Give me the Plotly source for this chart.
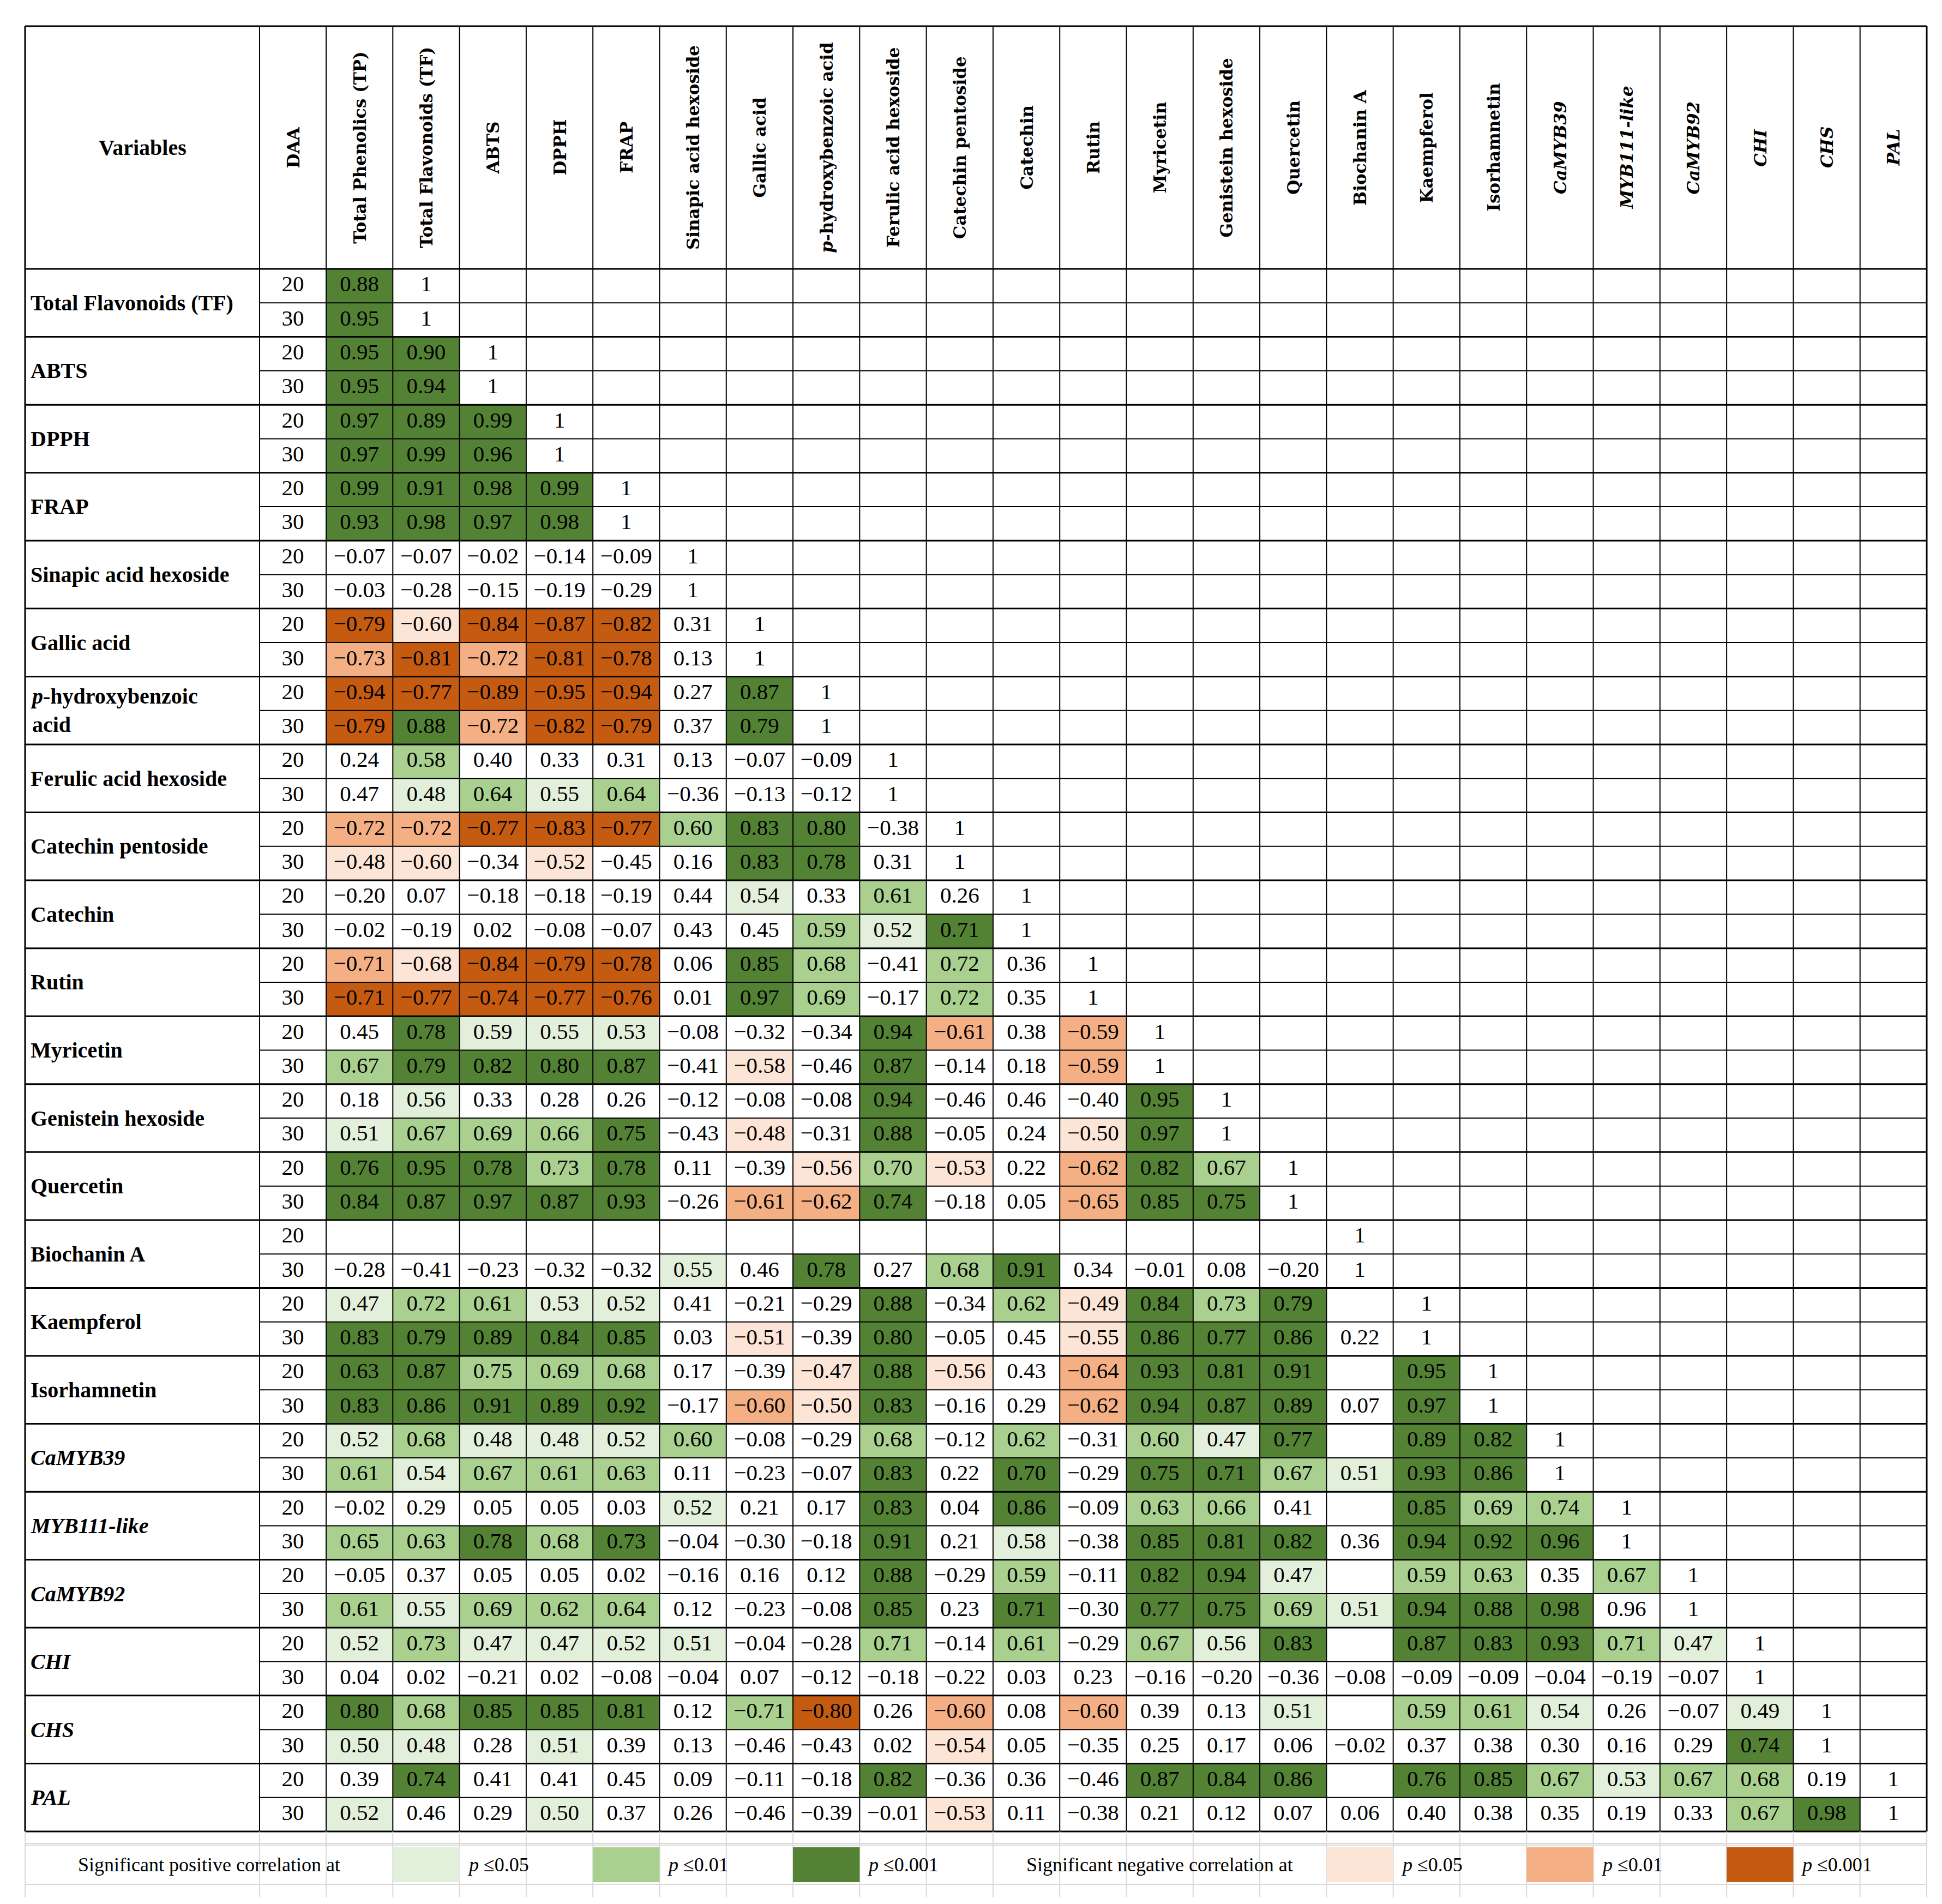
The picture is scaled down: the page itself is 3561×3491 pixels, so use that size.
import plotly.graph_objects as go

columns = ["Total Phenolics (TP)", "Total Flavonoids (TF)", "ABTS", "DPPH", "FRAP",
           "Sinapic acid hexoside", "Gallic acid", "<i>p</i>-hydroxybenzoic acid",
           "Ferulic acid hexoside", "Catechin pentoside", "Catechin", "Rutin", "Myricetin",
           "Genistein hexoside", "Quercetin", "Biochanin A", "Kaempferol", "Isorhamnetin",
           "<i>CaMYB39</i>", "<i>MYB111-like</i>", "<i>CaMYB92</i>", "<i>CHI</i>", "<i>CHS</i>", "<i>PAL</i>"]

row_vars = ["Total Flavonoids (TF)", "ABTS", "DPPH", "FRAP", "Sinapic acid hexoside", "Gallic acid",
            "<i>p</i>-hydroxybenzoic<br>acid", "Ferulic acid hexoside", "Catechin pentoside", "Catechin",
            "Rutin", "Myricetin", "Genistein hexoside", "Quercetin", "Biochanin A", "Kaempferol",
            "Isorhamnetin", "<i>CaMYB39</i>", "<i>MYB111-like</i>", "<i>CaMYB92</i>", "<i>CHI</i>",
            "<i>CHS</i>", "<i>PAL</i>"]
daa = ["20", "30"]

# "." = empty cell
values = [
    "0.88 1", "0.95 1",
    "0.95 0.90 1", "0.95 0.94 1",
    "0.97 0.89 0.99 1", "0.97 0.99 0.96 1",
    "0.99 0.91 0.98 0.99 1", "0.93 0.98 0.97 0.98 1",
    "-0.07 -0.07 -0.02 -0.14 -0.09 1", "-0.03 -0.28 -0.15 -0.19 -0.29 1",
    "-0.79 -0.60 -0.84 -0.87 -0.82 0.31 1", "-0.73 -0.81 -0.72 -0.81 -0.78 0.13 1",
    "-0.94 -0.77 -0.89 -0.95 -0.94 0.27 0.87 1", "-0.79 0.88 -0.72 -0.82 -0.79 0.37 0.79 1",
    "0.24 0.58 0.40 0.33 0.31 0.13 -0.07 -0.09 1", "0.47 0.48 0.64 0.55 0.64 -0.36 -0.13 -0.12 1",
    "-0.72 -0.72 -0.77 -0.83 -0.77 0.60 0.83 0.80 -0.38 1", "-0.48 -0.60 -0.34 -0.52 -0.45 0.16 0.83 0.78 0.31 1",
    "-0.20 0.07 -0.18 -0.18 -0.19 0.44 0.54 0.33 0.61 0.26 1", "-0.02 -0.19 0.02 -0.08 -0.07 0.43 0.45 0.59 0.52 0.71 1",
    "-0.71 -0.68 -0.84 -0.79 -0.78 0.06 0.85 0.68 -0.41 0.72 0.36 1", "-0.71 -0.77 -0.74 -0.77 -0.76 0.01 0.97 0.69 -0.17 0.72 0.35 1",
    "0.45 0.78 0.59 0.55 0.53 -0.08 -0.32 -0.34 0.94 -0.61 0.38 -0.59 1", "0.67 0.79 0.82 0.80 0.87 -0.41 -0.58 -0.46 0.87 -0.14 0.18 -0.59 1",
    "0.18 0.56 0.33 0.28 0.26 -0.12 -0.08 -0.08 0.94 -0.46 0.46 -0.40 0.95 1", "0.51 0.67 0.69 0.66 0.75 -0.43 -0.48 -0.31 0.88 -0.05 0.24 -0.50 0.97 1",
    "0.76 0.95 0.78 0.73 0.78 0.11 -0.39 -0.56 0.70 -0.53 0.22 -0.62 0.82 0.67 1", "0.84 0.87 0.97 0.87 0.93 -0.26 -0.61 -0.62 0.74 -0.18 0.05 -0.65 0.85 0.75 1",
    ". . . . . . . . . . . . . . . 1", "-0.28 -0.41 -0.23 -0.32 -0.32 0.55 0.46 0.78 0.27 0.68 0.91 0.34 -0.01 0.08 -0.20 1",
    "0.47 0.72 0.61 0.53 0.52 0.41 -0.21 -0.29 0.88 -0.34 0.62 -0.49 0.84 0.73 0.79 . 1", "0.83 0.79 0.89 0.84 0.85 0.03 -0.51 -0.39 0.80 -0.05 0.45 -0.55 0.86 0.77 0.86 0.22 1",
    "0.63 0.87 0.75 0.69 0.68 0.17 -0.39 -0.47 0.88 -0.56 0.43 -0.64 0.93 0.81 0.91 . 0.95 1", "0.83 0.86 0.91 0.89 0.92 -0.17 -0.60 -0.50 0.83 -0.16 0.29 -0.62 0.94 0.87 0.89 0.07 0.97 1",
    "0.52 0.68 0.48 0.48 0.52 0.60 -0.08 -0.29 0.68 -0.12 0.62 -0.31 0.60 0.47 0.77 . 0.89 0.82 1", "0.61 0.54 0.67 0.61 0.63 0.11 -0.23 -0.07 0.83 0.22 0.70 -0.29 0.75 0.71 0.67 0.51 0.93 0.86 1",
    "-0.02 0.29 0.05 0.05 0.03 0.52 0.21 0.17 0.83 0.04 0.86 -0.09 0.63 0.66 0.41 . 0.85 0.69 0.74 1", "0.65 0.63 0.78 0.68 0.73 -0.04 -0.30 -0.18 0.91 0.21 0.58 -0.38 0.85 0.81 0.82 0.36 0.94 0.92 0.96 1",
    "-0.05 0.37 0.05 0.05 0.02 -0.16 0.16 0.12 0.88 -0.29 0.59 -0.11 0.82 0.94 0.47 . 0.59 0.63 0.35 0.67 1", "0.61 0.55 0.69 0.62 0.64 0.12 -0.23 -0.08 0.85 0.23 0.71 -0.30 0.77 0.75 0.69 0.51 0.94 0.88 0.98 0.96 1",
    "0.52 0.73 0.47 0.47 0.52 0.51 -0.04 -0.28 0.71 -0.14 0.61 -0.29 0.67 0.56 0.83 . 0.87 0.83 0.93 0.71 0.47 1", "0.04 0.02 -0.21 0.02 -0.08 -0.04 0.07 -0.12 -0.18 -0.22 0.03 0.23 -0.16 -0.20 -0.36 -0.08 -0.09 -0.09 -0.04 -0.19 -0.07 1",
    "0.80 0.68 0.85 0.85 0.81 0.12 -0.71 -0.80 0.26 -0.60 0.08 -0.60 0.39 0.13 0.51 . 0.59 0.61 0.54 0.26 -0.07 0.49 1", "0.50 0.48 0.28 0.51 0.39 0.13 -0.46 -0.43 0.02 -0.54 0.05 -0.35 0.25 0.17 0.06 -0.02 0.37 0.38 0.30 0.16 0.29 0.74 1",
    "0.39 0.74 0.41 0.41 0.45 0.09 -0.11 -0.18 0.82 -0.36 0.36 -0.46 0.87 0.84 0.86 . 0.76 0.85 0.67 0.53 0.67 0.68 0.19 1", "0.52 0.46 0.29 0.50 0.37 0.26 -0.46 -0.39 -0.01 -0.53 0.11 -0.38 0.21 0.12 0.07 0.06 0.40 0.38 0.35 0.19 0.33 0.67 0.98 1",
]

# significance: 3/2/1 positive p<=0.001/0.01/0.05, negative likewise, 0 none
signif = [
    "3 0", "3 0",
    "3 3 0", "3 3 0",
    "3 3 3 0", "3 3 3 0",
    "3 3 3 3 0", "3 3 3 3 0",
    "0 0 0 0 0 0", "0 0 0 0 0 0",
    "-3 -1 -3 -3 -3 0 0", "-2 -3 -2 -3 -3 0 0",
    "-3 -3 -3 -3 -3 0 3 0", "-3 3 -2 -3 -3 0 3 0",
    "0 2 0 0 0 0 0 0 0", "0 1 2 1 2 0 0 0 0",
    "-2 -2 -3 -3 -3 2 3 3 0 0", "-1 -1 0 -1 0 0 3 3 0 0",
    "0 0 0 0 0 0 1 0 2 0 0", "0 0 0 0 0 0 0 2 1 3 0",
    "-2 -1 -3 -3 -3 0 3 2 0 2 0 0", "-3 -3 -3 -3 -3 0 3 2 0 2 0 0",
    "0 3 1 1 1 0 0 0 3 -2 0 -2 0", "2 3 3 3 3 0 -1 0 3 0 0 -2 0",
    "0 1 0 0 0 0 0 0 3 0 0 0 3 0", "1 2 2 2 3 0 -1 0 3 0 0 -1 3 0",
    "3 3 3 2 3 0 0 -1 2 -1 0 -2 3 2 0", "3 3 3 3 3 0 -2 -2 3 0 0 -2 3 3 0",
    "0 0 0 0 0 0 0 0 0 0 0 0 0 0 0 0", "0 0 0 0 0 1 0 3 0 2 3 0 0 0 0 0",
    "1 2 2 1 1 0 0 0 3 0 2 -1 3 2 3 0 0", "3 3 3 3 3 0 -1 0 3 0 0 -1 3 3 3 0 0",
    "3 3 2 2 2 0 0 -1 3 -1 0 -2 3 3 3 0 3 0", "3 3 3 3 3 0 -2 -1 3 0 0 -2 3 3 3 0 3 0",
    "1 2 1 1 1 2 0 0 2 0 2 0 2 1 3 0 3 3 0", "2 1 2 2 2 0 0 0 3 0 3 0 3 3 2 1 3 3 0",
    "0 0 0 0 0 1 0 0 3 0 3 0 2 2 0 0 3 2 2 0", "2 2 3 2 3 0 0 0 3 0 1 0 3 3 3 0 3 3 3 0",
    "0 0 0 0 0 0 0 0 3 0 2 0 3 3 1 0 2 2 0 2 0", "2 1 2 2 2 0 0 0 3 0 3 0 3 3 2 1 3 3 3 0 0",
    "1 2 1 1 1 1 0 0 2 0 2 0 2 1 3 0 3 3 3 2 1 0", "0 0 0 0 0 0 0 0 0 0 0 0 0 0 0 0 0 0 0 0 0 0",
    "3 2 3 3 3 0 2 -3 0 -2 0 -2 0 0 1 0 2 2 1 0 0 1 0", "1 1 0 1 0 0 0 0 0 -1 0 0 0 0 0 0 0 0 0 0 0 3 0",
    "0 3 0 0 0 0 0 0 3 0 0 0 3 3 3 0 3 3 2 1 2 2 0 0", "1 0 0 1 0 0 0 0 0 -1 0 0 0 0 0 0 0 0 0 0 0 2 3 0",
]

legend_levels = ["<i>p</i> ≤0.05", "<i>p</i> ≤0.01", "<i>p</i> ≤0.001"]

colors = {3: "#548235", 2: "#A9D08E", 1: "#E2EFDA", -1: "#FCE4D6", -2: "#F4B084", -3: "#C55A11"}

W, H = 3561, 3491
X0 = 38.0
XV = 468.0
XD = 590.0
XR = 3525.0
CW = (XR - XD) / len(columns)
Y0 = 40.0
YH = 485.0
NR = len(values)
RH = (3350.0 - YH) / NR
YB = YH + NR * RH
LY0, LY1 = 3379.0, 3443.0

def cx(j):
    return XD + (j + 0.5) * CW

def ry(i):
    return YH + (i + 0.5) * RH

SERIF = "Liberation Serif"
shapes = []
annos = []

# coloured cells
for i, (vrow, srow) in enumerate(zip(values, signif)):
    for j, s in enumerate(srow.split()):
        s = int(s)
        if s != 0:
            shapes.append(dict(type="rect", xref="x", yref="y", x0=XD + j * CW, x1=XD + (j + 1) * CW,
                               y0=YH + i * RH, y1=YH + (i + 1) * RH, fillcolor=colors[s],
                               line=dict(width=0), layer="below"))

# grid lines
line_c = "#000000"
for i in range(NR + 1):
    y = YH + i * RH
    if i % 2 == 0:
        shapes.append(dict(type="line", xref="x", yref="y", x0=X0, x1=XR, y0=y, y1=y, line=dict(color=line_c, width=3)))
    else:
        shapes.append(dict(type="line", xref="x", yref="y", x0=XV, x1=XR, y0=y, y1=y, line=dict(color=line_c, width=2)))
shapes.append(dict(type="line", xref="x", yref="y", x0=X0, x1=XR, y0=Y0, y1=Y0, line=dict(color=line_c, width=3)))
xs = [X0, XV] + [XD + j * CW for j in range(len(columns) + 1)]
for k, x in enumerate(xs):
    w = 3 if k in (0, len(xs) - 1) else 2
    shapes.append(dict(type="line", xref="x", yref="y", x0=x, x1=x, y0=Y0, y1=YB, line=dict(color=line_c, width=w)))

# legend row (faint grid)
grey = "#D9D9D9"
for y in (YB + 22, LY0 - 4, LY1 + 4):
    shapes.append(dict(type="line", xref="x", yref="y", x0=X0, x1=XR, y0=y, y1=y, line=dict(color=grey, width=2)))
for x in xs:
    shapes.append(dict(type="line", xref="x", yref="y", x0=x, x1=x, y0=YB, y1=H - 20, line=dict(color=grey, width=2)))
legend_pos = [(1, 1), (4, 2), (7, 3), (15, -1), (18, -2), (21, -3)]
for k, (j, lev) in enumerate(legend_pos):
    shapes.append(dict(type="rect", xref="x", yref="y", x0=XD + j * CW, x1=XD + (j + 1) * CW,
                       y0=LY0, y1=LY1, fillcolor=colors[lev], line=dict(width=0)))
    annos.append(dict(x=XD + (j + 1) * CW + 12, y=(LY0 + LY1) / 2, text=legend_levels[k % 3], showarrow=False,
                      xanchor="left", yanchor="middle", font=dict(family=SERIF, size=36, color="black")))
annos.append(dict(x=(X0 + XD + CW) / 2, y=(LY0 + LY1) / 2, text="Significant positive correlation at",
                  showarrow=False, xanchor="center", yanchor="middle", font=dict(family=SERIF, size=36, color="black")))
annos.append(dict(x=XD + 10 * CW + 2.5 * CW, y=(LY0 + LY1) / 2, text="Significant negative correlation at",
                  showarrow=False, xanchor="center", yanchor="middle", font=dict(family=SERIF, size=36, color="black")))

# header
annos.append(dict(x=(X0 + XV) / 2, y=(Y0 + YH) / 2, text="<b>Variables</b>", showarrow=False,
                  font=dict(family=SERIF, size=40, color="black")))
annos.append(dict(x=(XV + XD) / 2, y=(Y0 + YH) / 2, text="<b>DAA</b>", showarrow=False, textangle=-90,
                  font=dict(family="DejaVu Serif", size=31, color="black")))
for j, c in enumerate(columns):
    annos.append(dict(x=cx(j), y=(Y0 + YH) / 2, text="<b>" + c + "</b>", showarrow=False, textangle=-90,
                      font=dict(family="DejaVu Serif", size=31, color="black")))

# row labels and DAA
for g, name in enumerate(row_vars):
    annos.append(dict(x=X0 + 8, y=YH + (2 * g + 1) * RH, text="<b>" + name + "</b>", showarrow=False,
                      xanchor="left", yanchor="middle", align="left",
                      font=dict(family=SERIF, size=40, color="black")))
dx, dy, dt = [], [], []
for i in range(NR):
    dx.append((XV + XD) / 2); dy.append(ry(i)); dt.append(daa[i % 2])

# cell values
tx, ty, tt = [], [], []
for i, vrow in enumerate(values):
    for j, v in enumerate(vrow.split()):
        if v != ".":
            tx.append(cx(j)); ty.append(ry(i)); tt.append(v.replace("-", "\u2212"))

fig = go.Figure()
fig.add_trace(go.Scatter(x=tx + dx, y=ty + dy, text=tt + dt, mode="text", textposition="middle center",
                         textfont=dict(family=SERIF, size=41, color="black"), hoverinfo="skip", showlegend=False))
fig.update_layout(width=W, height=H, margin=dict(l=0, r=0, t=0, b=0), paper_bgcolor="white",
                  plot_bgcolor="white", shapes=shapes, annotations=annos,
                  xaxis=dict(range=[0, W], visible=False, fixedrange=True),
                  yaxis=dict(range=[H, 0], visible=False, fixedrange=True))
fig.write_html("out.html")
